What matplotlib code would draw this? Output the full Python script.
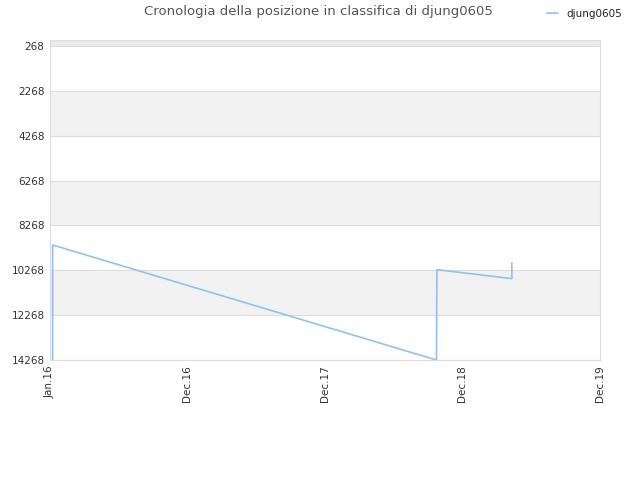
import matplotlib
matplotlib.use("Agg")
import matplotlib.pyplot as plt
import matplotlib.dates as mdates
import datetime as dt

dates = ["2016-01-08", "2016-01-08", "2018-10-23", "2018-10-24", "2019-05-11", "2019-05-11"]
ranks = [14268, 9140, 14268, 10240, 10640, 9950]
tick_dates = ["2016-01-01", "2016-12-31", "2017-12-31", "2018-12-31", "2019-12-31"]
tick_labels = ["Jan.16", "Dec.16", "Dec.17", "Dec.18", "Dec.19"]
y_ticks = [268, 2268, 4268, 6268, 8268, 10268, 12268, 14268]
series_name = "djung0605"
title = "Cronologia della posizione in classifica di djung0605"

to_d = lambda s: dt.datetime.strptime(s, "%Y-%m-%d")
x = [to_d(d) for d in dates]
xt = [to_d(d) for d in tick_dates]

fig = plt.figure(figsize=(6.4, 4.8), dpi=100)
ax = fig.add_axes([50/640, 1-360/480, 550/640, 320/480])

# bands
ax.axhspan(0, y_ticks[0], color="#ebebeb", zorder=0, lw=0)
for i in range(len(y_ticks)-1):
    if i % 2 == 1:
        ax.axhspan(y_ticks[i], y_ticks[i+1], color="#f2f2f2", zorder=0, lw=0)
for yv in y_ticks:
    ax.axhline(yv, color="#dddddd", lw=0.8, zorder=1)

ax.plot(x, ranks, color="#90c2f0", lw=1.2, zorder=3, label=series_name)

ax.set_ylim(14268, 0)
ax.set_xlim(xt[0], xt[-1])
ax.set_yticks(y_ticks)
ax.set_yticklabels([str(v) for v in y_ticks])
ax.set_xticks(xt)
ax.set_xticklabels(tick_labels, rotation=90)
ax.tick_params(axis="both", length=0, labelsize=7.5, colors="#333333", pad=4)
for s in ax.spines.values():
    s.set_color("#dddddd")
    s.set_linewidth(0.8)

fig.text(318/640, 1-12/480, title, ha="center", va="center", fontsize=9.5, color="#555555")
leg = fig.legend(loc="center left", bbox_to_anchor=(543/640, 1-14/480), frameon=False,
                 fontsize=7.5, handlelength=1.0, handletextpad=0.8, borderaxespad=0)
for t in leg.get_texts():
    t.set_color("#222222")
fig.savefig("out.png", dpi=100)
